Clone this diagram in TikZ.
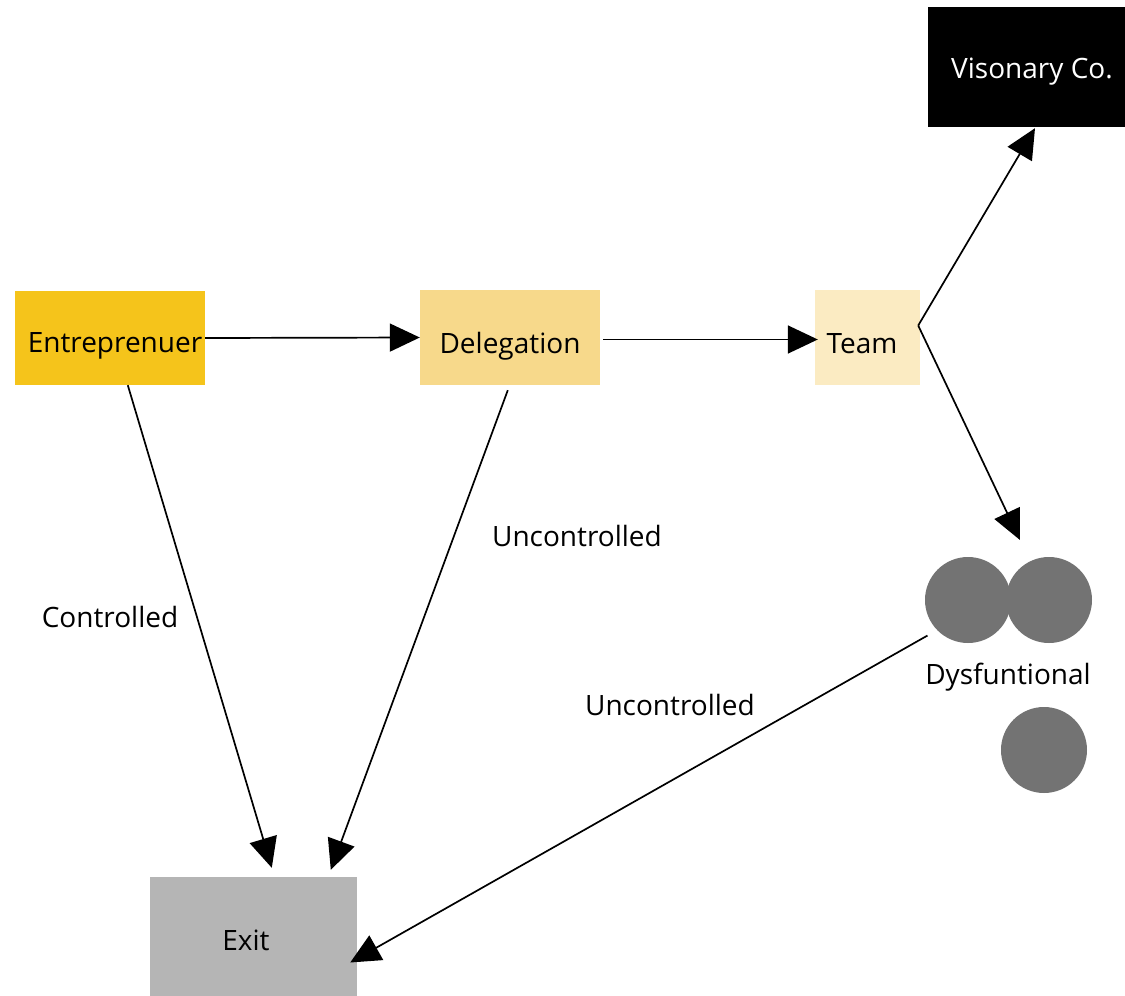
\documentclass[tikz,border=0pt]{standalone}
\usepackage{fontspec}
\setmainfont{Open Sans}
\usetikzlibrary{arrows.meta,calc}
\definecolor{entc}{HTML}{F5C41B}
\definecolor{delc}{HTML}{F7D98B}
\definecolor{teamc}{HTML}{FBEBC2}
\definecolor{exitc}{HTML}{B5B5B5}
\definecolor{dysc}{HTML}{737373}
\tikzset{
  box/.style={rectangle, inner sep=0pt, text depth=0pt, font=\fontsize{28}{33}\selectfont},
  blob/.style={circle, fill=dysc, minimum size=86pt, inner sep=0pt},
  lbl/.style={font=\fontsize{28}{33}\selectfont, inner sep=0pt},
  arr/.style={line width=1.7pt, -{Triangle[length=30pt,width=28pt]}},
}
\begin{document}
\begin{tikzpicture}[x=1pt,y=-1pt]
\useasboundingbox[fill=white] (0,0) rectangle (1125,996);
\node[box, text height=29pt, fill=entc, minimum width=190pt, minimum height=94pt] (ent) at (110,338) {\kern10pt Entreprenuer};
\node[box, text height=31pt, fill=delc, minimum width=180pt, minimum height=95pt] (del) at (510,337.5) {Delegation};
\node[box, text height=31pt, fill=teamc, minimum width=105pt, minimum height=95pt] (team) at (867.5,337.5) {Team\kern11pt};
\node[box, text height=22pt, fill=black, text=white, minimum width=197pt, minimum height=120pt] (vis) at (1026.5,67) {\kern11pt Visonary Co.};
\node[box, text height=27pt, fill=exitc, minimum width=207pt, minimum height=119pt] (exit) at (253.5,936.5) {Exit\kern15pt};
\node[blob] (c1) at (968,600) {};
\node[blob] (c2) at (1049,600) {};
\node[blob] (c3) at (1044,750) {};
\node[lbl] (dys) at (1008,677) {Dysfuntional};
\node[lbl] (ctl) at (110,617) {Controlled};
\node[lbl] (unc1) at (577,536) {Uncontrolled};
\node[lbl] (unc2) at (670,705) {Uncontrolled};
\coordinate (tip) at ($(team.east)+(-2,-12)$);
\coordinate (dysin) at (1020,540);
\draw[arr] (ent.east) -- (del.west);
\draw[arr] ($(del.east)+(3,2)$) -- ($(team.west)+(3,2)$);
\draw[arr] (tip) -- ($(vis.south)+(8.5,1)$);
\draw[arr] (tip) -- (dysin);
\draw[arr] ($(ent.south west)+(113,0)$) -- ($(exit.north west)+(122,-9)$);
\draw[arr] ($(del.south west)+(88,5)$) -- ($(exit.north west)+(181,-7)$);
\draw[arr] ($(c1.south west)+(-10,5)$) -- ($(exit.east)+(-7,26)$);
\end{tikzpicture}
\end{document}
